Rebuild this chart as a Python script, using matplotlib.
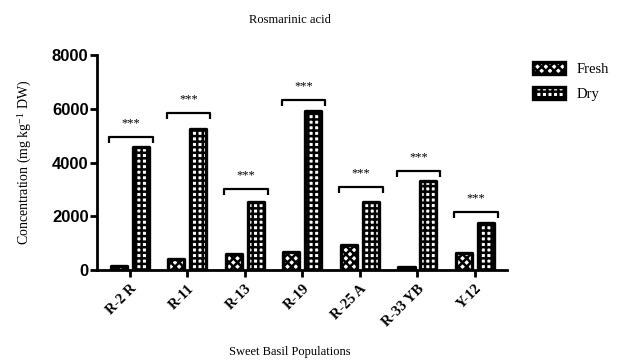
import numpy as np
import matplotlib.pyplot as plt

# Rosmarinic acid content (mg kg-1 DW) per sweet basil population
populations = ["R-2 R", "R-11", "R-13", "R-19", "R-25 A", "R-33 YB", "Y-12"]
fresh = [150, 430, 600, 680, 920, 130, 630]
dry = [4600, 5250, 2530, 5920, 2530, 3330, 1750]
sig_levels = [4950, 5840, 3010, 6320, 3090, 3680, 2160]
sig_marks = ["***"] * 7

plt.rcParams["hatch.linewidth"] = 1.8
plt.rcParams["mathtext.fontset"] = "stix"

fig = plt.figure(figsize=(6.17, 3.63), dpi=100)
ax = fig.add_axes([0.157, 0.256, 0.665, 0.592])

x = np.arange(len(populations))
w = 0.28
ax.bar(x - 0.19, fresh, w, facecolor="white", edgecolor="black", linewidth=2.4,
       hatch="xxxx", label="Fresh", joinstyle="round")
ax.bar(x + 0.19, dry, w, facecolor="white", edgecolor="black", linewidth=2.4,
       hatch="+++", label="Dry", joinstyle="round")

# significance brackets
for xi, lvl, mark in zip(x, sig_levels, sig_marks):
    x0, x1 = xi - 0.36, xi + 0.40
    ax.plot([x0, x0, x1, x1], [lvl - 230, lvl, lvl, lvl - 230], color="black",
            lw=1.6, solid_capstyle="butt")
    ax.text((x0 + x1) / 2, lvl + 520, mark, ha="center", va="center",
            fontsize=9, family="Liberation Serif")

ax.set_xlim(-0.57, 6.56)
ax.set_ylim(0, 8000)
ax.set_yticks([0, 2000, 4000, 6000, 8000])
ax.set_xticks(x)
ax.set_xticklabels(populations, rotation=45, ha="right", rotation_mode="anchor",
                   family="Liberation Serif", fontweight="bold", fontsize=10.5)
for lab in ax.get_yticklabels():
    lab.set_family("Liberation Sans")
    lab.set_fontweight("bold")
    lab.set_fontsize(12)

for s in ["top", "right"]:
    ax.spines[s].set_visible(False)
for s in ["left", "bottom"]:
    ax.spines[s].set_linewidth(2)
ax.tick_params(axis="both", width=2, length=5, direction="out")
ax.tick_params(axis="y", pad=1)

ax.set_ylabel("Concentration (mg kg$^{\\mathregular{-1}}$ DW)", family="Liberation Serif",
              fontsize=10, labelpad=13)
fig.text(0.47, 0.945, "Rosmarinic acid", ha="center", va="center",
         family="Liberation Serif", fontsize=9)
fig.text(0.47, 0.03, "Sweet Basil Populations", ha="center", va="center",
         family="Liberation Serif", fontsize=9)

leg = ax.legend(loc="upper left", bbox_to_anchor=(1.03, 1.03), frameon=False,
                prop={"family": "Liberation Serif", "size": 10.5},
                handlelength=2.2, handleheight=0.9, labelspacing=0.75)

fig.savefig("out.png", dpi=100)
